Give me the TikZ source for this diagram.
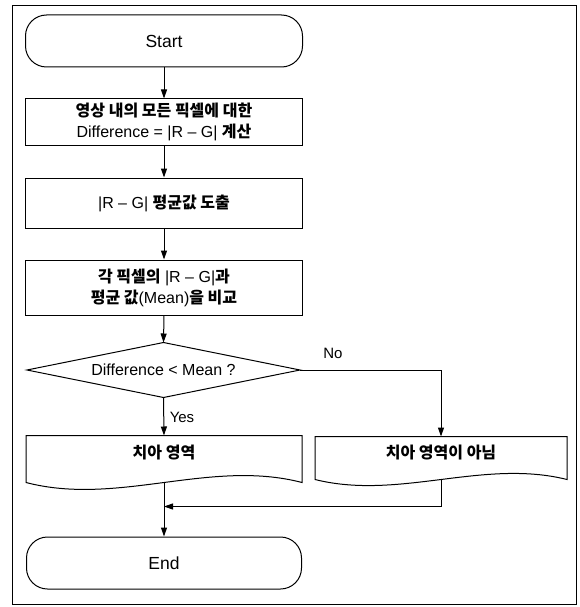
\documentclass[tikz,border=0pt]{standalone}
\usepackage{fontspec}
\setmainfont{Liberation Sans}
\newfontfamily\krfont{Noto Sans CJK KR}
\newcommand{\kr}{\krfont\bfseries}
\usetikzlibrary{arrows.meta,calc}
\begin{document}
\begin{tikzpicture}[x=1pt,y=-1pt,line width=1pt,
  txt/.style={font=\fontsize{16}{21}\selectfont,align=center,inner sep=0pt},
  term/.style={txt,draw,rounded corners=21pt,minimum width=277pt,minimum height=52pt,font=\fontsize{17.5}{21}\selectfont},
  proc/.style={txt,draw,minimum width=277pt},
  docn/.style={txt},
  arr/.style={-{Triangle[length=9pt,width=6pt]}},
  lbl/.style={font=\fontsize{15}{18}\selectfont,inner sep=0pt}]
\useasboundingbox (0,0) rectangle (579,607);
\draw[line width=0.9pt] (12,5) rectangle (576,604);

\node[term] (start) at (164,41) {Start};
\node[proc,minimum height=46pt] (b1) at (164,122) {{\kr 영상 내의 모든 픽셀에 대한}\\Difference = |R – G| {\kr 계산}};
\node[proc,minimum height=50pt] (b2) at (164,203) {|R – G| {\kr 평균값 도출}};
\node[proc,minimum height=55pt] (b3) at (164,287.5) {{\kr 각 픽셀의} |R – G|{\kr 과}\\{\kr 평균 값}(Mean){\kr 을 비교}};
\node[txt,minimum width=272pt,minimum height=54pt] (dec) at (163.5,370) {Difference < Mean ?};
\draw (dec.west) -- (dec.north) -- (dec.east) -- (dec.south) -- cycle;

\node[docn,minimum width=275pt,minimum height=34pt] (ldoc) at (164,453) {\kr 치아 영역};
\draw (ldoc.north west) -- ($(ldoc.south west)+(0,12)$) .. controls +(92,24) and +(-92,-24) .. ($(ldoc.south east)+(0,12)$) -- (ldoc.north east) -- cycle;
\coordinate (lw) at ($(ldoc.south)+(0,12)$);

\node[docn,minimum width=251pt,minimum height=32pt] (rdoc) at (441,453) {\kr 치아 영역이 아님};
\draw (rdoc.north west) -- ($(rdoc.south west)+(0,10)$) .. controls +(84,21) and +(-84,-21) .. ($(rdoc.south east)+(0,10)$) -- (rdoc.north east) -- cycle;
\coordinate (rw) at ($(rdoc.south)+(0,10)$);
\coordinate (j) at ($(lw)+(0,24)$);

\node[term,minimum width=275pt] (end) at (164,563) {End};

\draw[arr] (start) -- (b1);
\draw[arr] (b1) -- (b2);
\draw[arr] (b2) -- (b3);
\draw[arr] (b3.south) -- (dec.north);
\draw[arr] (dec.south) -- (ldoc.north);
\draw[arr] (dec.east) -| (rdoc.north);
\draw[arr] (rw) |- (j);
\draw[arr] (lw) -- (end.north);

\node[lbl] (yes) at (182,417) {Yes};
\node[lbl] (no) at (333,353) {No};
\end{tikzpicture}
\end{document}
